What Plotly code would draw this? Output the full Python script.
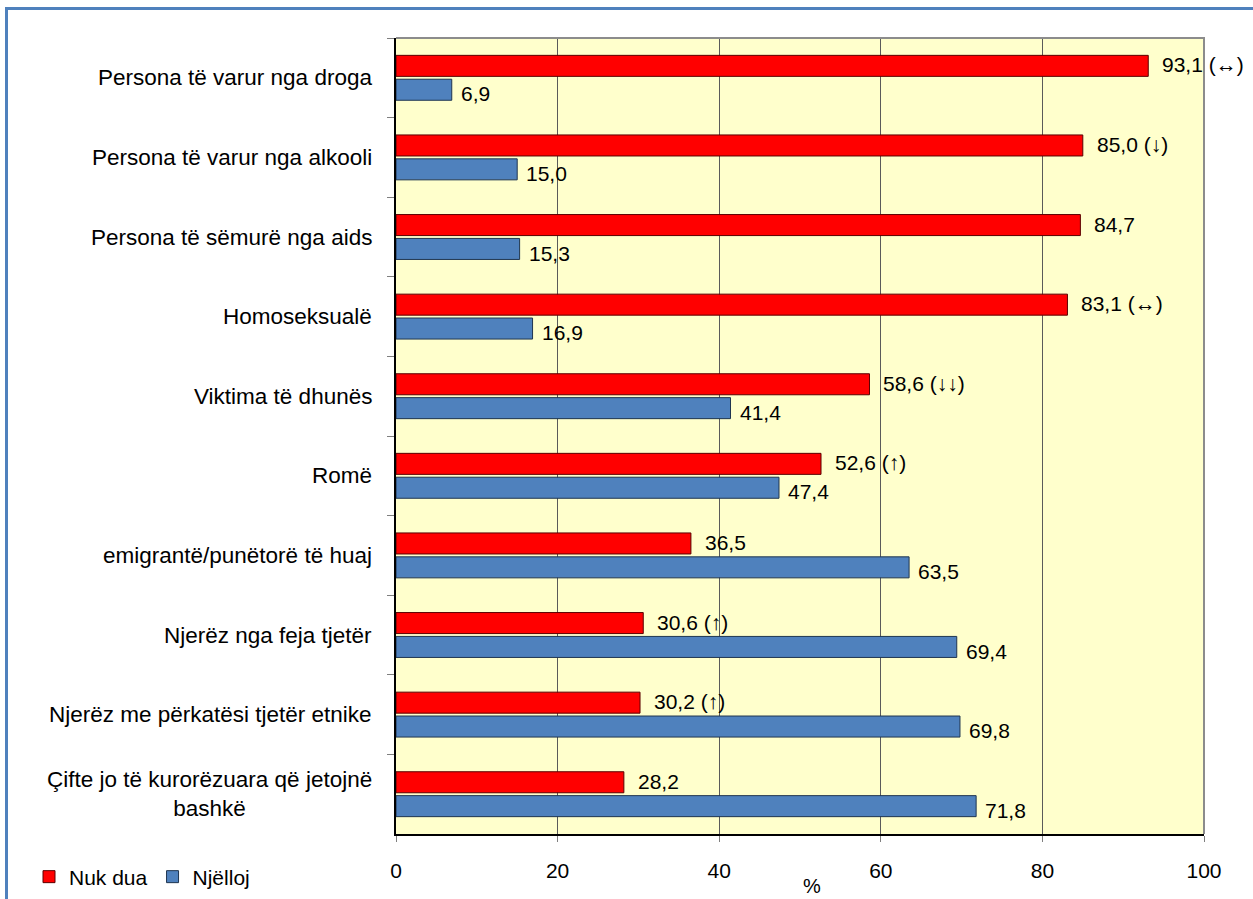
import plotly.graph_objects as go

categories = [
    "Persona të varur nga droga",
    "Persona të varur nga alkooli",
    "Persona të sëmurë nga aids",
    "Homoseksualë",
    "Viktima të dhunës",
    "Romë",
    "emigrantë/punëtorë të huaj",
    "Njerëz nga feja tjetër",
    "Njerëz me përkatësi tjetër etnike",
    "Çifte jo të kurorëzuara që jetojnë<br>bashkë",
]
nuk_dua = [93.1, 85.0, 84.7, 83.1, 58.6, 52.6, 36.5, 30.6, 30.2, 28.2]
njelloj = [6.9, 15.0, 15.3, 16.9, 41.4, 47.4, 63.5, 69.4, 69.8, 71.8]
trend = ["(↔)", "(↓)", "", "(↔)", "(↓↓)", "(↑)", "", "(↑)", "(↑)", ""]
x_ticks = [0, 20, 40, 60, 80, 100]

W, H = 1253, 899
L, R, T, B = 396, 49, 38, 65
PW, PH = W - L - R, H - T - B
FONT = "Liberation Sans, Arial, sans-serif"


def px(xp):
    return (xp - L) / PW


def py(yp):
    return (H - B - yp) / PH


def fmt(v):
    return f"{v:.1f}".replace(".", ",")


fig = go.Figure()
fig.add_trace(go.Bar(
    name="Nuk dua", y=categories, x=nuk_dua, orientation="h",
    marker=dict(color="#FF0000", line=dict(color="#5a0000", width=1)),
))
fig.add_trace(go.Bar(
    name="Njëlloj", y=categories, x=njelloj, orientation="h",
    marker=dict(color="#4F81BD", line=dict(color="#1f3550", width=1)),
))

ann = []
for c, v, t in zip(categories, nuk_dua, trend):
    txt = fmt(v) + (" " + t if t else "")
    ann.append(dict(x=v, y=c, xref="x", yref="y", text=txt, showarrow=False,
                    xanchor="left", yanchor="middle", xshift=12, yshift=13,
                    font=dict(family=FONT, size=21, color="#000")))
for c, v in zip(categories, njelloj):
    ann.append(dict(x=v, y=c, xref="x", yref="y", text=fmt(v), showarrow=False,
                    xanchor="left", yanchor="middle", xshift=7, yshift=-16,
                    font=dict(family=FONT, size=21, color="#000")))
for c in categories:
    ann.append(dict(x=0, y=c, xref="paper", yref="y", text=c, showarrow=False,
                    xanchor="right", yanchor="middle", xshift=-22, align="center",
                    font=dict(family=FONT, size=22.5, color="#000")))
ann.append(dict(x=px(812), y=py(886), xref="paper", yref="paper", text="%",
                showarrow=False, xanchor="center", yanchor="middle",
                font=dict(family=FONT, size=20, color="#000")))

shapes = [
    # plot area top/right frame
    dict(type="path", xref="paper", yref="paper",
         path="M 0 1 L 1 1 L 1 0", line=dict(color="#8c8c8c", width=2)),
    # outer chart border (blue)
    dict(type="path", xref="paper", yref="paper",
         path=f"M {px(6.5)} {py(910)} L {px(6.5)} {py(8.5)} L {px(1270)} {py(8.5)}",
         line=dict(color="#4F81BD", width=3)),
]

fig.update_layout(
    width=W, height=H,
    margin=dict(l=L, r=R, t=T, b=B, pad=0, autoexpand=False),
    paper_bgcolor="white",
    plot_bgcolor="#FFFFCC",
    barmode="group", bargap=0.4, bargroupgap=0.12,
    font=dict(family=FONT, size=21, color="#000"),
    showlegend=True,
    legend=dict(orientation="h", x=px(29), y=py(877), xanchor="left", yanchor="middle",
                font=dict(family=FONT, size=21, color="#000"),
                bgcolor="rgba(0,0,0,0)", traceorder="normal",
                itemwidth=30, tracegroupgap=0),
    annotations=ann,
    shapes=shapes,
)
fig.update_xaxes(
    range=[0, 100], tickvals=x_ticks, ticktext=[str(v) for v in x_ticks],
    showgrid=True, gridcolor="#5a5a5a", gridwidth=1,
    zeroline=False, showline=True, linecolor="#000", linewidth=1.5,
    ticks="outside", ticklen=6, tickcolor="#7f7f7f", ticklabelstandoff=11,
    tickfont=dict(family=FONT, size=21, color="#000"), automargin=False,
)
fig.update_yaxes(
    autorange="reversed", showticklabels=False, showgrid=False,
    showline=True, linecolor="#000", linewidth=1.5,
    ticks="outside", ticklen=7, tickcolor="#7f7f7f", tickson="boundaries",
    automargin=False,
)

fig.write_html("out.html", config={"displayModeBar": False},
               post_script="document.body.style.margin='0';")
